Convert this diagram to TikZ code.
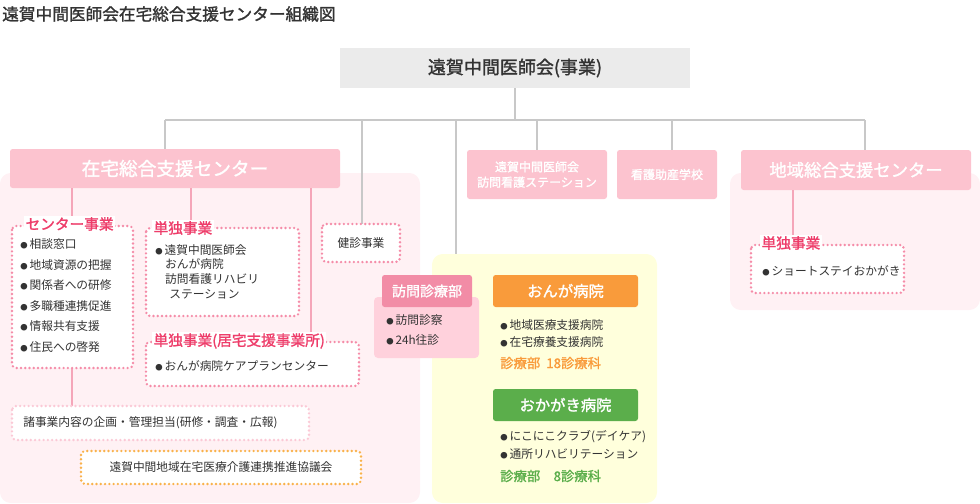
\documentclass[tikz,border=0pt]{standalone}
\usepackage{fontspec}
\setmainfont{Noto Sans CJK JP}
\newfontfamily\jpb{Noto Sans CJK JP}[FakeBold=1.5]
\newcommand{\bul}{{\fontsize{5.5pt}{5pt}\selectfont●}\,}
\definecolor{pk}{HTML}{FCC3CF}
\definecolor{pkbg}{HTML}{FFF1F4}
\definecolor{pkln}{HTML}{F5A6B9}
\definecolor{pkdot}{HTML}{F58CA8}
\definecolor{red1}{HTML}{EE3D6A}
\definecolor{gy}{HTML}{C8C8C8}
\definecolor{gybox}{HTML}{EBEBEB}
\definecolor{tx}{HTML}{333333}
\definecolor{orbox}{HTML}{F99B3B}
\definecolor{grbox}{HTML}{5BAE4B}
\definecolor{yel}{HTML}{FFFFDC}
\definecolor{vis}{HTML}{FFD1DC}
\definecolor{visd}{HTML}{F28CA6}
\definecolor{ordot}{HTML}{F9B24A}
\tikzset{
 dotbox/.style={draw=pkdot,fill=white,line width=2pt,line cap=round,dash pattern=on 0pt off 3.2pt,rounded corners=3pt},
 gline/.style={draw=gy,line width=1.5pt},
 pline/.style={draw=pkln,line width=1.5pt},
 itm/.style={anchor=west,text=tx,font=\fontsize{8.8pt}{11pt}\selectfont,inner sep=0pt},
 ttl/.style={anchor=west,text=red1,font=\fontsize{11pt}{12pt}\selectfont\jpb,fill=white,inner sep=1pt},
 wt/.style={text=white,font=\jpb}
}
\begin{document}
\begin{tikzpicture}[x=0.75pt,y=-0.75pt]
\useasboundingbox (0,0) rectangle (980,503);
\node[anchor=west,text=tx,font=\fontsize{12.5pt}{14pt}\selectfont\jpb,inner sep=0pt] (title) at (2,14) {遠賀中間医師会在宅総合支援センター組織図};
% backgrounds
\fill[pkbg,rounded corners=8pt] (0,173) rectangle (420,503);
\fill[pkbg,rounded corners=8pt] (730,173) rectangle (980,310);
\fill[yel,rounded corners=8pt] (432,254) rectangle (657,503);
% top
\fill[gybox] (340,48) rectangle (690,88);
\node[text=tx,font=\fontsize{13.5pt}{14pt}\selectfont\jpb] (top) at (515,68) {遠賀中間医師会(事業)};
\draw[gline] (515,88) -- (515,120);
\draw[gline] (165,120) -- (865,120);
\foreach \x/\y in {165/150,537/150,672/150,865/150,362/224,456/254} \draw[gline] (\x,120) -- (\x,\y);
% second level
\fill[pk,rounded corners=2pt] (10,149) rectangle (340,188);
\node[wt,font=\fontsize{14pt}{16pt}\selectfont\jpb] (zaitaku) at (175,168.5) {在宅総合支援センター};
\fill[pk,rounded corners=2pt] (467,150) rectangle (607,199);
\node[wt,align=center,font=\fontsize{9pt}{11.5pt}\selectfont\jpb] (houkan) at (537,174.5) {遠賀中間医師会\\訪問看護ステーション};
\fill[pk,rounded corners=2pt] (617,150) rectangle (717,199);
\node[wt,font=\fontsize{9pt}{11pt}\selectfont\jpb] (kango) at (667,174.5) {看護助産学校};
\fill[pk,rounded corners=2pt] (741,150) rectangle (971,190);
\node[wt,font=\fontsize{13pt}{14pt}\selectfont\jpb] (chiiki) at (856,170) {地域総合支援センター};
% pink lines
\draw[pline] (72,188) -- (72,222);
\draw[pline] (191,188) -- (191,222);
\draw[pline] (311,188) -- (311,340);
\draw[pline] (72,368) -- (72,406);
\draw[pline] (793,190) -- (793,240);
% center jigyo
\draw[dotbox] (12,226) rectangle (133,368);
\node[ttl] (cj) at (24,224) {センター事業};
\foreach \t [count=\i] in {相談窓口,地域資源の把握,関係者への研修,多職種連携促進,情報共有支援,住民への啓発}
 \node[itm] at (20,224+\i*20.5) {\bul\t};
% tandoku
\draw[dotbox] (146,228) rectangle (299,316);
\node[ttl] (td) at (152,228) {単独事業};
\node[itm,anchor=north west,align=left] at (155,244) {\bul 遠賀中間医師会\\\hspace{0.85em}おんが病院\\\hspace{0.85em}訪問看護リハビリ\\\hspace{1.2em}ステーション};
% tandoku kyotaku
\draw[dotbox] (146,342) rectangle (359,386);
\node[ttl] (tk) at (152,341) {単独事業(居宅支援事業所)};
\node[itm] at (155,366) {\bul おんが病院ケアプランセンター};
% shojigyo
\draw[dotbox,draw=pkbg!60!pkdot] (12,406) rectangle (309,440);
\node[itm] (sho) at (23,423) {諸事業内容の企画・管理担当(研修・調査・広報)};
\draw[dotbox,draw=ordot] (81,451) rectangle (361,484);
\node[itm,anchor=center] (kyo) at (221,467.5) {遠賀中間地域在宅医療介護連携推進協議会};
% kenshin
\draw[dotbox] (322,224) rectangle (400,262);
\node[itm,anchor=center] (ken) at (361,243) {健診事業};
% houmon shinryo
\fill[vis,rounded corners=3pt] (374,297) rectangle (479,358);
\fill[visd,rounded corners=2pt] (382,275) rectangle (472,307);
\node[wt,font=\fontsize{10.5pt}{12pt}\selectfont\jpb] (hs) at (427,291) {訪問診療部};
\node[itm] at (386,320) {\bul 訪問診察};
\node[itm] at (386,340) {\bul 24h往診};
% onga
\fill[orbox,rounded corners=2pt] (493,275) rectangle (638,307);
\node[wt,font=\fontsize{11.5pt}{12pt}\selectfont\jpb] (onga) at (565.5,291) {おんが病院};
\node[itm] at (500,325) {\bul 地域医療支援病院};
\node[itm] at (500,342) {\bul 在宅療養支援病院};
\node[itm,text=orbox,font=\fontsize{10pt}{11pt}\selectfont\jpb] at (500,363) {診療部\ \ 18診療科};
% okagaki
\fill[grbox,rounded corners=2pt] (493,389) rectangle (638,421);
\node[wt,font=\fontsize{11.5pt}{12pt}\selectfont\jpb] (oka) at (565.5,405) {おかがき病院};
\node[itm] at (500,437) {\bul にこにこクラブ(デイケア)};
\node[itm] at (500,454) {\bul 通所リハビリテーション};
\node[itm,text=grbox,font=\fontsize{10pt}{11pt}\selectfont\jpb] at (500,476) {診療部\quad 8診療科};
% chiiki tandoku
\draw[dotbox] (751,245) rectangle (904,293);
\node[ttl] (ct) at (760,243) {単独事業};
\node[itm] at (762,271) {\bul ショートステイおかがき};
\end{tikzpicture}
\end{document}
